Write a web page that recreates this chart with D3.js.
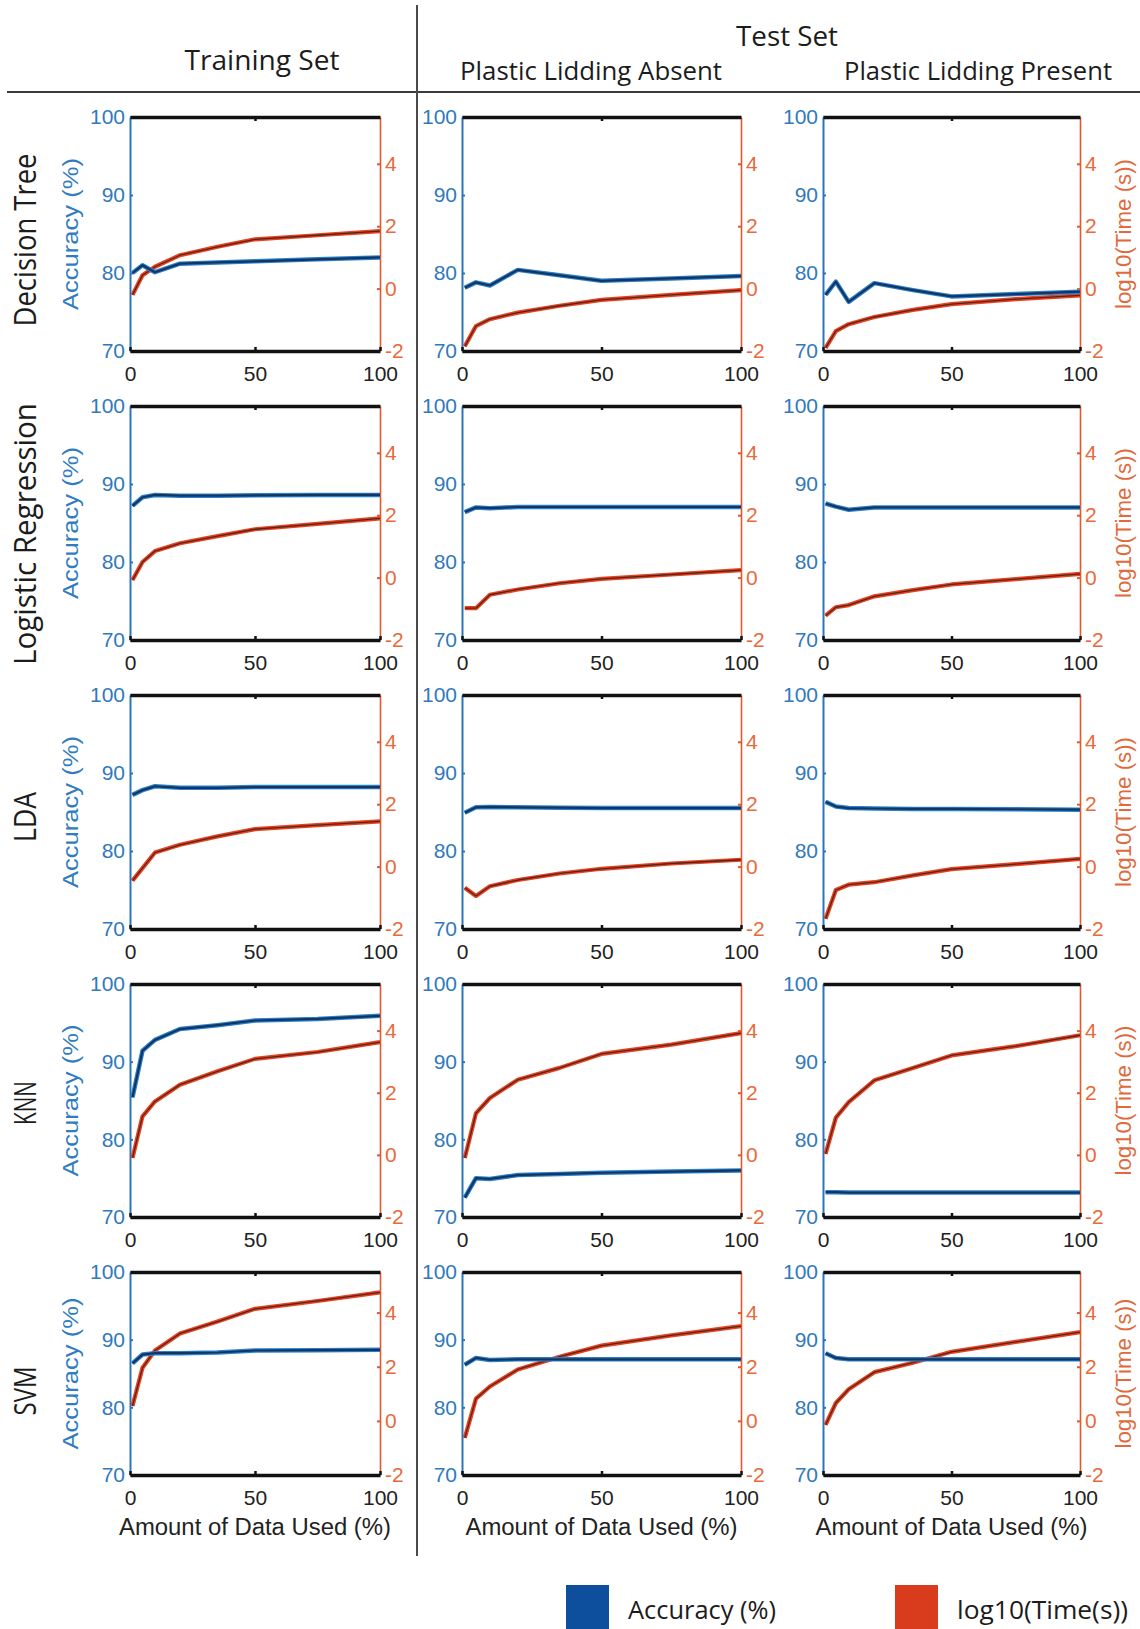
<!DOCTYPE html>
<html>
<head>
<meta charset="utf-8">
<script src="https://cdn.jsdelivr.net/npm/d3@7"></script>
<style>
  body { margin: 0; background: #fff; }
  svg text { font-family: "Liberation Sans", Arial, sans-serif; }
  .hdr { font-family: "Open Sans", "Noto Sans", sans-serif; fill: #1c1c1c; }
</style>
</head>
<body>
<svg id="chart" width="1140" height="1629"></svg>
<script>
// ---- data ----
const xPoints = [1, 5, 10, 20, 35, 50, 75, 100];
const classifiers = ["Decision Tree", "Logistic Regression", "LDA", "KNN", "SVM"];
const setNames = ["Training Set", "Plastic Lidding Absent", "Plastic Lidding Present"];
const accTicks = [70, 80, 90, 100];
const timeTicks = [-2, 0, 2, 4];
const xTicks = [0, 50, 100];

// each: [training, lidding absent, lidding present]
const accTree = [
  [80.0, 81.0, 80.1, 81.2, 81.35, 81.5, 81.75, 82.0],
  [78.1, 78.8, 78.4, 80.4, 79.7, 79.0, 79.3, 79.6],
  [77.2, 78.9, 76.3, 78.7, 77.8, 77.0, 77.3, 77.6]
];
const timeTree = [
  [-0.2, 0.43, 0.7, 1.07, 1.34, 1.58, 1.71, 1.84],
  [-1.85, -1.2, -0.98, -0.77, -0.55, -0.36, -0.2, -0.05],
  [-1.9, -1.36, -1.14, -0.91, -0.68, -0.5, -0.34, -0.22]
];
const accLogistic = [
  [87.2, 88.3, 88.6, 88.5, 88.5, 88.55, 88.6, 88.6],
  [86.4, 87.0, 86.9, 87.05, 87.05, 87.05, 87.05, 87.05],
  [87.5, 87.1, 86.7, 87.0, 87.0, 87.0, 87.0, 87.0]
];
const timeLogistic = [
  [-0.08, 0.5, 0.85, 1.1, 1.33, 1.55, 1.72, 1.9],
  [-0.98, -0.98, -0.55, -0.38, -0.18, -0.04, 0.1, 0.24],
  [-1.22, -0.95, -0.88, -0.6, -0.4, -0.22, -0.05, 0.12]
];
const accLda = [
  [87.2, 87.8, 88.3, 88.1, 88.1, 88.2, 88.2, 88.2],
  [84.9, 85.6, 85.65, 85.6, 85.55, 85.5, 85.5, 85.5],
  [86.3, 85.7, 85.5, 85.45, 85.4, 85.4, 85.35, 85.3]
];
const timeLda = [
  [-0.45, -0.05, 0.45, 0.7, 0.97, 1.2, 1.33, 1.45],
  [-0.68, -0.94, -0.63, -0.43, -0.22, -0.07, 0.1, 0.22],
  [-1.67, -0.75, -0.58, -0.5, -0.28, -0.08, 0.08, 0.25]
];
const accKnn = [
  [85.4, 91.4, 92.8, 94.2, 94.7, 95.3, 95.5, 95.9],
  [72.5, 75.0, 74.9, 75.4, 75.55, 75.7, 75.85, 76.0],
  [73.2, 73.2, 73.15, 73.15, 73.15, 73.15, 73.15, 73.15]
];
const timeKnn = [
  [-0.1, 1.24, 1.72, 2.26, 2.69, 3.09, 3.31, 3.63],
  [-0.1, 1.34, 1.83, 2.42, 2.8, 3.25, 3.55, 3.92],
  [0.03, 1.2, 1.7, 2.4, 2.8, 3.2, 3.5, 3.85]
];
const accSvm = [
  [86.5, 87.8, 88.0, 88.0, 88.1, 88.4, 88.45, 88.5],
  [86.3, 87.3, 87.0, 87.1, 87.1, 87.1, 87.1, 87.1],
  [88.0, 87.3, 87.1, 87.1, 87.1, 87.1, 87.1, 87.1]
];
const timeSvm = [
  [0.55, 1.96, 2.6, 3.23, 3.67, 4.14, 4.43, 4.75],
  [-0.63, 0.82, 1.27, 1.9, 2.37, 2.78, 3.16, 3.5],
  [-0.15, 0.66, 1.17, 1.8, 2.15, 2.55, 2.92, 3.28]
];

const accData = [accTree, accLogistic, accLda, accKnn, accSvm];
const timeData = [timeTree, timeLogistic, timeLda, timeKnn, timeSvm];

// ---- layout ----
const colX = [[130, 380], [462, 741], [823, 1080]];
const rowY = [[117, 351], [406, 640], [695, 929], [984, 1217], [1272, 1475]];
const rowLabelY = [240, 534, 817, 1103, 1391];
const rowLabelLen = [173, 262, 50, 44, 49];

const blue = "#2a74ba", red = "#e4582c";
const plain = d => String(d);   // keep a hyphen-minus like the original

const svg = d3.select("#chart");

// header rules
svg.append("line").attr("x1", 7).attr("x2", 1140).attr("y1", 92).attr("y2", 92)
  .attr("stroke", "#3a3a3a").attr("stroke-width", 2);
svg.append("line").attr("x1", 417).attr("x2", 417).attr("y1", 5).attr("y2", 1556)
  .attr("stroke", "#4a4a4a").attr("stroke-width", 2);

const hdr = (txt, x, y, len, size) => svg.append("text").attr("class", "hdr")
  .attr("x", x).attr("y", y).attr("text-anchor", "middle")
  .attr("font-size", size).attr("textLength", len).attr("lengthAdjust", "spacingAndGlyphs")
  .text(txt);

hdr(setNames[0], 262, 70, 155, 27);
hdr("Test Set", 787, 46, 102, 27);
hdr(setNames[1], 591, 80, 262, 25);
hdr(setNames[2], 978, 80, 268, 25);

const lineFor = (xs, ys) => d3.line()
  .x((d, i) => xs(xPoints[i]))
  .y(d => ys(d));

classifiers.forEach((name, r) => {
  const [y0, y1] = rowY[r];
  const yAcc = d3.scaleLinear().domain([70, 100]).range([y1, y0]);
  const yTime = d3.scaleLinear().domain([-2, 5.5]).range([y1, y0]);

  svg.append("text").attr("class", "hdr")
    .attr("transform", `translate(36,${rowLabelY[r]}) rotate(-90)`)
    .attr("text-anchor", "middle").attr("font-size", 31)
    .attr("textLength", rowLabelLen[r]).attr("lengthAdjust", "spacingAndGlyphs")
    .text(name);

  setNames.forEach((s, c) => {
    const [x0, x1] = colX[c];
    const x = d3.scaleLinear().domain([0, 100]).range([x0, x1]);
    const g = svg.append("g");

    // left accuracy axis
    const gl = g.append("g").attr("transform", `translate(${x0},0)`)
      .call(d3.axisLeft(yAcc).tickValues(accTicks).tickFormat(plain)
        .tickSize(-3).tickSizeOuter(0).tickPadding(5));
    gl.select(".domain").attr("stroke", blue).attr("stroke-width", 2);
    gl.selectAll(".tick line").attr("stroke", blue).attr("stroke-width", 2);
    gl.selectAll(".tick text").attr("fill", "#3179bd").attr("font-size", 21);

    // right time axis
    const gr = g.append("g").attr("transform", `translate(${x1},0)`)
      .call(d3.axisRight(yTime).tickValues(timeTicks).tickFormat(plain)
        .tickSize(-3).tickSizeOuter(0).tickPadding(5));
    gr.select(".domain").attr("stroke", red).attr("stroke-width", 1.6);
    gr.selectAll(".tick line").attr("stroke", red).attr("stroke-width", 2)
      .attr("opacity", d => d === -2 ? 0 : 1);
    gr.selectAll(".tick text").attr("fill", "#e86a3c").attr("font-size", 21);

    // top / bottom frame
    const gt = g.append("g").attr("transform", `translate(0,${y0})`)
      .call(d3.axisTop(x).tickValues([50]).tickSize(-4).tickSizeOuter(0).tickFormat(""));
    const gb = g.append("g").attr("transform", `translate(0,${y1})`)
      .call(d3.axisBottom(x).tickValues(xTicks).tickFormat(plain)
        .tickSize(-4).tickSizeOuter(0).tickPadding(15));
    [gt, gb].forEach(a => {
      a.select(".domain").attr("stroke", "#111").attr("stroke-width", 3.6);
      a.selectAll(".tick line").attr("stroke", "#111").attr("stroke-width", 2.5);
    });
    gb.selectAll(".tick text").attr("fill", "#222").attr("font-size", 21);

    // series
    const tLine = lineFor(x, yTime);
    const aLine = lineFor(x, yAcc);
    g.append("path").datum(timeData[r][c]).attr("d", tLine)
      .attr("fill", "none").attr("stroke", "#ef3e1c").attr("stroke-width", 4.2).attr("stroke-linejoin", "round");
    g.append("path").datum(timeData[r][c]).attr("d", tLine)
      .attr("fill", "none").attr("stroke", "#4b2a20").attr("stroke-width", 1.3).attr("stroke-linejoin", "round");
    g.append("path").datum(accData[r][c]).attr("d", aLine)
      .attr("fill", "none").attr("stroke", "#2a80d0").attr("stroke-width", 4.5).attr("stroke-linejoin", "round");
    g.append("path").datum(accData[r][c]).attr("d", aLine)
      .attr("fill", "none").attr("stroke", "#133660").attr("stroke-width", 2.2).attr("stroke-linejoin", "round");

    if (c === 0) {
      svg.append("text").attr("transform", `translate(78,${(y0 + y1) / 2}) rotate(-90)`)
        .attr("text-anchor", "middle").attr("font-size", 22).attr("fill", "#2f7cc0")
        .attr("textLength", 152).attr("lengthAdjust", "spacingAndGlyphs")
        .text("Accuracy (%)");
    }
    if (c === 2) {
      svg.append("text").attr("transform", `translate(1131,${(y0 + y1) / 2}) rotate(-90)`)
        .attr("text-anchor", "middle").attr("font-size", 22).attr("fill", "#e06a3c")
        .attr("textLength", 150).attr("lengthAdjust", "spacingAndGlyphs")
        .text("log10(Time (s))");
    }
    if (r === classifiers.length - 1) {
      svg.append("text").attr("x", (x0 + x1) / 2).attr("y", 1535)
        .attr("text-anchor", "middle").attr("font-size", 23).attr("fill", "#222")
        .attr("textLength", 272).attr("lengthAdjust", "spacingAndGlyphs")
        .text("Amount of Data Used (%)");
    }
  });
});

// legend
const legend = [
  { label: "Accuracy (%)", color: "#0e4f9d", x: 566, len: 148 },
  { label: "log10(Time(s))", color: "#d83c1c", x: 895, len: 171 }
];
legend.forEach(d => {
  svg.append("rect").attr("x", d.x).attr("y", 1585).attr("width", 43).attr("height", 44)
    .attr("fill", d.color);
  svg.append("text").attr("class", "hdr").attr("x", d.x + 62).attr("y", 1619)
    .attr("font-size", 25).attr("textLength", d.len).attr("lengthAdjust", "spacingAndGlyphs")
    .text(d.label);
});
</script>
</body>
</html>
